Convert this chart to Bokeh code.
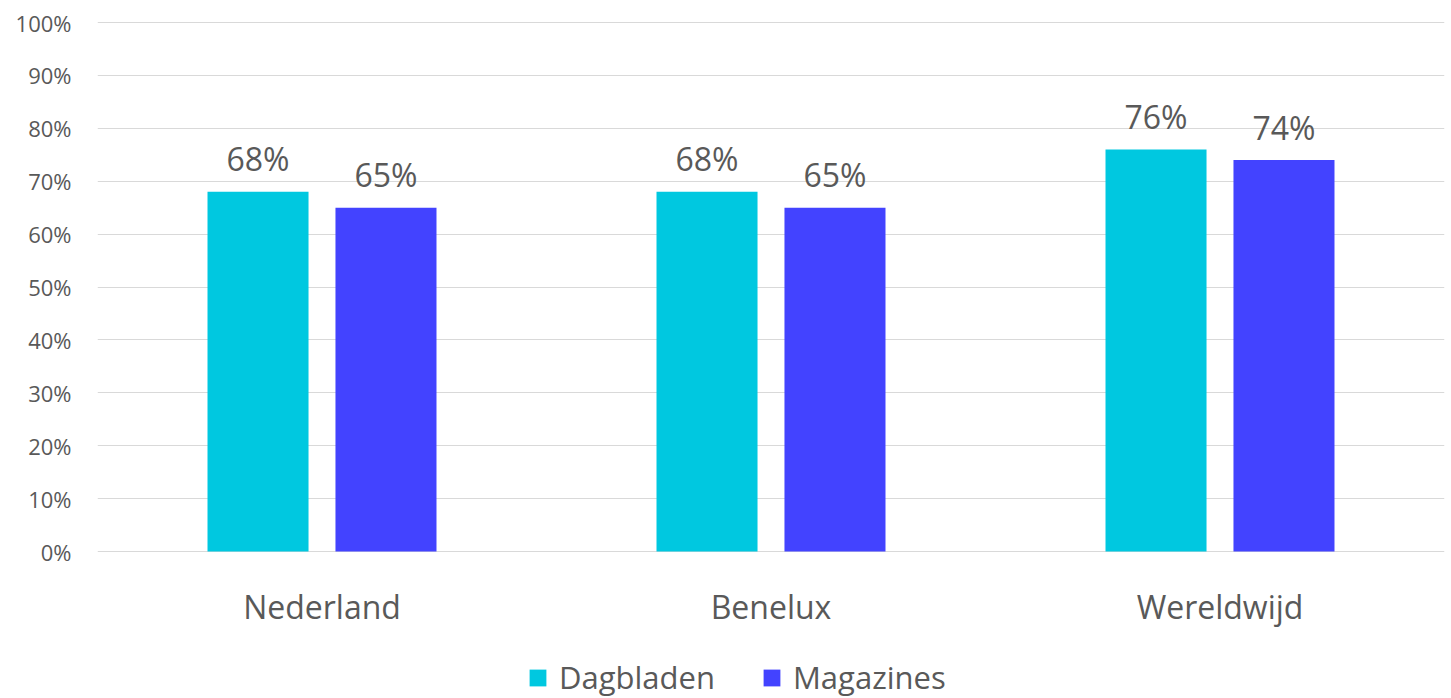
from bokeh.plotting import figure
from bokeh.models import (ColumnDataSource, FactorRange, Range1d, Legend, LegendItem,
                          PrintfTickFormatter, FixedTicker)
from bokeh.transform import dodge
from bokeh.core.properties import value
from bokeh.embed import file_html
from bokeh.resources import INLINE

categories = ["Nederland", "Benelux", "Wereldwijd"]
dagbladen = [68, 68, 76]
magazines = [65, 65, 74]
series_names = ["Dagbladen", "Magazines"]
y_ticks = [0, 10, 20, 30, 40, 50, 60, 70, 80, 90, 100]

FONT = "Open Sans"
TEXT = "#595959"
C1 = "#00C8E0"
C2 = "#4343FF"

W, H = 1451, 698
LEFT, TOP, RIGHT = 97, 18, 7
ZERO_Y = 551   # pixel row of the 0% gridline
FULL_Y = 22    # pixel row of the 100% gridline
px_per_unit = (ZERO_Y - FULL_Y) / 100
# extend the frame below 0% (legend sits inside it) and a little above 100%
y_start = -(H - ZERO_Y) / px_per_unit
y_end = 100 + (FULL_Y - TOP) / px_per_unit

src = ColumnDataSource(dict(
    cat=categories,
    d=dagbladen,
    m=magazines,
    dl=[f"{v}%" for v in dagbladen],
    ml=[f"{v}%" for v in magazines],
    base=[0] * len(categories),
))

p = figure(x_range=FactorRange(factors=categories), y_range=Range1d(y_start, y_end),
           width=W, height=H, output_backend="svg", toolbar_location=None,
           x_axis_location=None,
           min_border_left=LEFT, min_border_top=TOP, min_border_bottom=0,
           min_border_right=RIGHT)

r1 = p.vbar(x=dodge("cat", -0.1425, range=p.x_range), top="d", width=0.225,
            source=src, color=C1, line_color=None)
r2 = p.vbar(x=dodge("cat", 0.1425, range=p.x_range), top="m", width=0.225,
            source=src, color=C2, line_color=None)

# value labels
p.text(x=dodge("cat", -0.1425, range=p.x_range), y="d", text="dl", source=src,
       text_align="center", text_baseline="middle", y_offset=-33,
       text_font=value(FONT), text_font_size="32px", text_color=TEXT)
p.text(x=dodge("cat", 0.1425, range=p.x_range), y="m", text="ml", source=src,
       text_align="center", text_baseline="middle", y_offset=-33,
       text_font=value(FONT), text_font_size="32px", text_color=TEXT)

# category labels under the 0% line
p.text(x="cat", y="base", text="cat", source=src,
       text_align="center", text_baseline="middle", y_offset=55,
       text_font=value(FONT), text_font_size="32px", text_color=TEXT)

p.outline_line_color = None
p.background_fill_color = "white"
p.border_fill_color = "white"
p.xgrid.grid_line_color = None
p.ygrid.grid_line_color = "#D9D9D9"
p.ygrid.grid_line_width = 1.2
p.yaxis.ticker = FixedTicker(ticks=y_ticks)
p.yaxis.formatter = PrintfTickFormatter(format="%d%%")
p.yaxis.axis_line_color = None
p.yaxis.major_tick_line_color = None
p.yaxis.minor_tick_line_color = None
p.yaxis.major_tick_out = 0
p.yaxis.major_tick_in = 0
p.yaxis.major_label_text_color = TEXT
p.yaxis.major_label_text_font = FONT
p.yaxis.major_label_text_font_size = "22px"
p.yaxis.major_label_standoff = 26

legend = Legend(items=[LegendItem(label=series_names[0], renderers=[r1]),
                       LegendItem(label=series_names[1], renderers=[r2])],
                orientation="horizontal", location=(430, 0),
                glyph_width=21, glyph_height=21, spacing=46, label_standoff=11,
                padding=0, margin=0,
                label_text_font=FONT, label_text_font_size="31px", label_text_color=TEXT,
                border_line_color=None, background_fill_alpha=0)
p.add_layout(legend, "center")

open("out.html", "w").write(file_html(p, INLINE))
